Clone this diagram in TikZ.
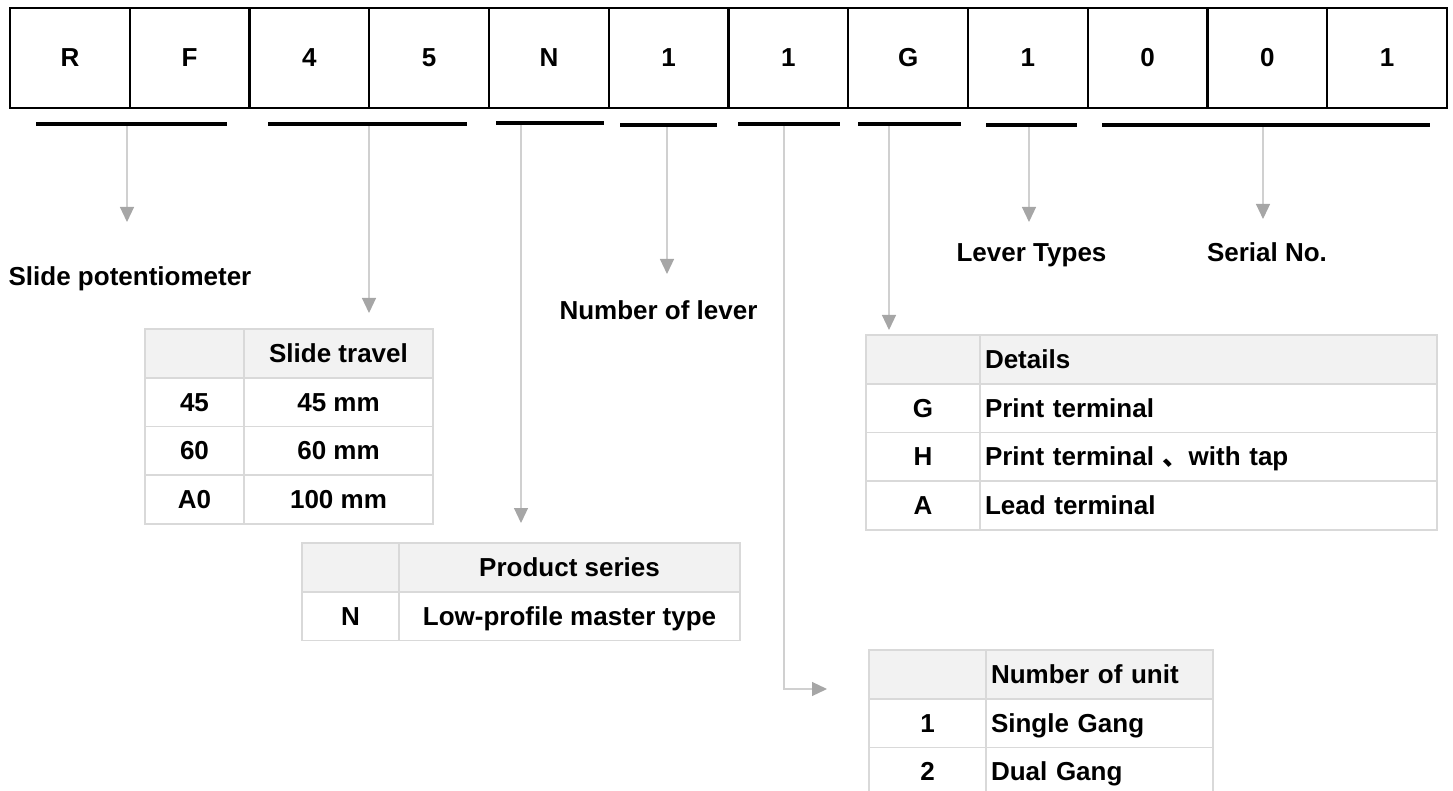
\documentclass[tikz,border=0pt]{standalone}
\usepackage{fontspec}
\setmainfont{Liberation Sans}
\newfontfamily\cjk{Noto Sans CJK SC}
\usetikzlibrary{arrows.meta}

\definecolor{linegray}{HTML}{D0D0D0}
\definecolor{tipgray}{HTML}{A6A6A6}
\definecolor{gridgray}{HTML}{D9D9D9}
\definecolor{headgray}{HTML}{F2F2F2}

\begin{document}
\begin{tikzpicture}[x=1pt,y=-1pt,
	every node/.style={font=\fontsize{26}{31}\selectfont\bfseries,text height=19pt,text depth=1pt},
	code/.style={shape=rectangle,draw=black,line width=2pt,minimum width=119.75pt,minimum height=100pt,inner sep=0pt},
	bar/.style={fill=black,minimum height=4pt,inner sep=0pt,text height=0pt,text depth=0pt},
	txt/.style={inner sep=0pt},
	head/.style={draw=gridgray,fill=headgray,line width=1.5pt,minimum height=48.75pt,inner sep=0pt},
	cell/.style={draw=gridgray,line width=1.5pt,minimum height=48.75pt,inner sep=0pt},
	conn/.style={draw=linegray,line width=1.2pt,-{Triangle[length=15pt,width=14pt,color=tipgray]}}]
	
	\useasboundingbox (0,0) rectangle (1453,791);
	
	% part number
	\node[code] (c1)  at (69.9,58)   {R};
	\node[code] (c2)  at (189.6,58)  {F};
	\node[code] (c3)  at (309.4,58)  {4};
	\node[code] (c4)  at (429.1,58)  {5};
	\node[code] (c5)  at (548.9,58)  {N};
	\node[code] (c6)  at (668.6,58)  {1};
	\node[code] (c7)  at (788.4,58)  {1};
	\node[code] (c8)  at (908.1,58)  {G};
	\node[code] (c9)  at (1027.9,58) {1};
	\node[code] (c10) at (1147.6,58) {0};
	\node[code] (c11) at (1267.4,58) {0};
	\node[code] (c12) at (1387.1,58) {1};
	
	% groups
	\node[bar,minimum width=191pt] (b1) at (131.5,124) {};
	\node[bar,minimum width=199pt] (b2) at (367.5,124) {};
	\node[bar,minimum width=108pt] (b3) at (550,123)   {};
	\node[bar,minimum width=97pt]  (b4) at (668.5,125) {};
	\node[bar,minimum width=102pt] (b5) at (789,124)   {};
	\node[bar,minimum width=103pt] (b6) at (909.5,124) {};
	\node[bar,minimum width=91pt]  (b7) at (1031.5,125) {};
	\node[bar,minimum width=328pt] (b8) at (1266,125)  {};
	
	% labels
	\node[txt] (slide)  at (130,276.5)  {Slide potentiometer};
	\node[txt] (lever)  at (658.5,311)  {Number of lever};
	\node[txt] (types)  at (1031.5,253) {Lever Types};
	\node[txt] (serial) at (1267,253)   {Serial No.};
	
	% slide travel
	\node[head,minimum width=99pt]  (tr0a) at (194.5,353.4) {};
	\node[head,minimum width=189pt] (tr0b) at (338.5,353.4) {Slide travel};
	\node[cell,minimum width=99pt]  (tr1a) at (194.5,402.1) {45};
	\node[cell,minimum width=189pt] (tr1b) at (338.5,402.1) {45 mm};
	\node[cell,minimum width=99pt]  (tr2a) at (194.5,450.9) {60};
	\node[cell,minimum width=189pt] (tr2b) at (338.5,450.9) {60 mm};
	\node[cell,minimum width=99pt]  (tr3a) at (194.5,499.6) {A0};
	\node[cell,minimum width=189pt] (tr3b) at (338.5,499.6) {100 mm};
	
	% product series
	\node[head,minimum width=97pt]  (ps0a) at (350.5,567.4) {};
	\node[head,minimum width=341pt] (ps0b) at (569.5,567.4) {Product series};
	\node[cell,minimum width=97pt]  (ps1a) at (350.5,616.1) {N};
	\node[cell,minimum width=341pt] (ps1b) at (569.5,616.1) {Low-profile master type};
	
	% details
	\node[head,minimum width=114pt] (dt0a) at (923,359.4) {};
	\node[head,minimum width=457pt,text width=447pt,align=left] (dt0b) at (1208.5,359.4) {Details};
	\node[cell,minimum width=114pt] (dt1a) at (923,408.1) {G};
	\node[cell,minimum width=457pt,text width=447pt,align=left] (dt1b) at (1208.5,408.1) {Print terminal};
	\node[cell,minimum width=114pt] (dt2a) at (923,456.9) {H};
	\node[cell,minimum width=457pt,text width=447pt,align=left] (dt2b) at (1208.5,456.9) {Print terminal {\cjk 、}with tap};
	\node[cell,minimum width=114pt] (dt3a) at (923,505.6) {A};
	\node[cell,minimum width=457pt,text width=447pt,align=left] (dt3b) at (1208.5,505.6) {Lead terminal};
	
	% number of unit
	\node[head,minimum width=117pt] (un0a) at (927.5,674.4) {};
	\node[head,minimum width=227pt,text width=217pt,align=left] (un0b) at (1099.5,674.4) {Number of unit};
	\node[cell,minimum width=117pt] (un1a) at (927.5,723.1) {1};
	\node[cell,minimum width=227pt,text width=217pt,align=left] (un1b) at (1099.5,723.1) {Single Gang};
	\node[cell,minimum width=117pt] (un2a) at (927.5,771.9) {2};
	\node[cell,minimum width=227pt,text width=217pt,align=left] (un2b) at (1099.5,771.9) {Dual Gang};
	
	% arrows
	\coordinate (e1) at (127,222);
	\coordinate (e2) at (369,313);
	\coordinate (e3) at (521,523);
	\coordinate (e4) at (667,274);
	\coordinate (k5) at (784,689);
	\coordinate (e5) at (827,689);
	\coordinate (e6) at (889,330);
	\coordinate (e7) at (1029,222);
	\coordinate (e8) at (1263,219);
	\draw[conn] (b1.south -| e1) -- (e1);
	\draw[conn] (b2.south -| e2) -- (e2);
	\draw[conn] (b3.south -| e3) -- (e3);
	\draw[conn] (b4.south -| e4) -- (e4);
	\draw[conn] (b5.south -| k5) -- (k5) -- (e5);
	\draw[conn] (b6.south -| e6) -- (e6);
	\draw[conn] (b7.south -| e7) -- (e7);
	\draw[conn] (b8.south -| e8) -- (e8);
	
\end{tikzpicture}
\end{document}
